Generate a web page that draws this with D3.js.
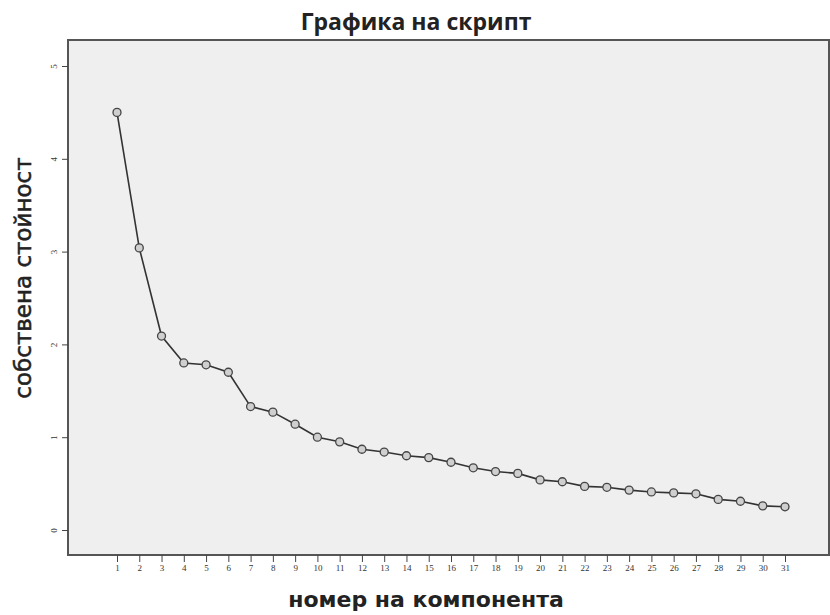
<!DOCTYPE html>
<html>
<head>
<meta charset="utf-8">
<script src="https://cdn.jsdelivr.net/npm/d3@7"></script>
<style>
  body { margin: 0; background: #fff; }
</style>
</head>
<body>
<div id="chart"></div>
<script>
const components = d3.range(1, 32);
const eigenvalues = [4.50, 3.04, 2.09, 1.80, 1.78, 1.70, 1.33, 1.27, 1.14, 1.00,
  0.95, 0.87, 0.84, 0.80, 0.78, 0.73, 0.67, 0.63, 0.61, 0.54,
  0.52, 0.47, 0.46, 0.43, 0.41, 0.40, 0.39, 0.33, 0.31, 0.26, 0.25];
const yTicks = [0, 1, 2, 3, 4, 5];

const width = 830, height = 615;
const frame = { left: 68, top: 40, right: 829, bottom: 555 };

const svg = d3.select("#chart").append("svg")
  .attr("width", width)
  .attr("height", height);

const x = d3.scaleLinear().domain([1, 31]).range([117, 785]);
const y = d3.scaleLinear().domain([0, 5]).range([530, 66]);

// plot area
svg.append("rect")
  .attr("x", frame.left)
  .attr("y", frame.top)
  .attr("width", frame.right - frame.left)
  .attr("height", frame.bottom - frame.top)
  .attr("fill", "#efefef")
  .attr("stroke", "#555")
  .attr("stroke-width", 2);

// y axis
const yAxis = svg.append("g")
  .attr("transform", `translate(${frame.left},0)`)
  .call(d3.axisLeft(y).tickValues(yTicks).tickSize(6).tickFormat(d3.format("d")));
yAxis.select(".domain").remove();
yAxis.selectAll("line").attr("stroke", "#444");
yAxis.selectAll("text")
  .attr("font-family", "Liberation Serif, serif")
  .attr("font-size", 9)
  .attr("fill", "#333")
  .attr("text-anchor", "middle")
  .attr("dy", null)
  .attr("x", -11)
  .attr("transform", "rotate(-90,-11,0)");

// x axis
const xAxis = svg.append("g")
  .attr("transform", `translate(0,${frame.bottom})`)
  .call(d3.axisBottom(x).tickValues(components).tickSize(7).tickPadding(3).tickFormat(d3.format("d")));
xAxis.select(".domain").remove();
xAxis.selectAll("line").attr("stroke", "#444");
xAxis.selectAll("text")
  .attr("font-family", "Liberation Serif, serif")
  .attr("font-size", 9)
  .attr("fill", "#333");

// line
const line = d3.line()
  .x((d, i) => x(components[i]))
  .y(d => y(d));

svg.append("path")
  .datum(eigenvalues)
  .attr("fill", "none")
  .attr("stroke", "#333")
  .attr("stroke-width", 1.6)
  .attr("d", line);

svg.append("g")
  .selectAll("circle")
  .data(eigenvalues)
  .enter().append("circle")
  .attr("cx", (d, i) => x(components[i]))
  .attr("cy", d => y(d))
  .attr("r", 4)
  .attr("fill", "#cfcfcf")
  .attr("stroke", "#444")
  .attr("stroke-width", 1.3);

// titles
svg.append("text")
  .attr("x", 416)
  .attr("y", 30)
  .attr("text-anchor", "middle")
  .attr("font-family", "Liberation Sans Narrow, Open Sans, sans-serif")
  .attr("font-weight", "bold")
  .attr("font-size", 23)
  .attr("fill", "#222")
  .text("Графика на скрипт");

svg.append("text")
  .attr("transform", "translate(31,278) rotate(-90)")
  .attr("text-anchor", "middle")
  .attr("font-family", "DejaVu Sans, sans-serif")
  .attr("font-size", 23)
  .attr("fill", "#222")
  .attr("stroke", "#222")
  .attr("stroke-width", 0.5)
  .text("собствена стойност");

svg.append("text")
  .attr("x", 426)
  .attr("y", 607)
  .attr("text-anchor", "middle")
  .attr("font-family", "DejaVu Sans, sans-serif")
  .attr("font-weight", "bold")
  .attr("font-size", 22)
  .attr("fill", "#222")
  .text("номер на компонента");
</script>
</body>
</html>
